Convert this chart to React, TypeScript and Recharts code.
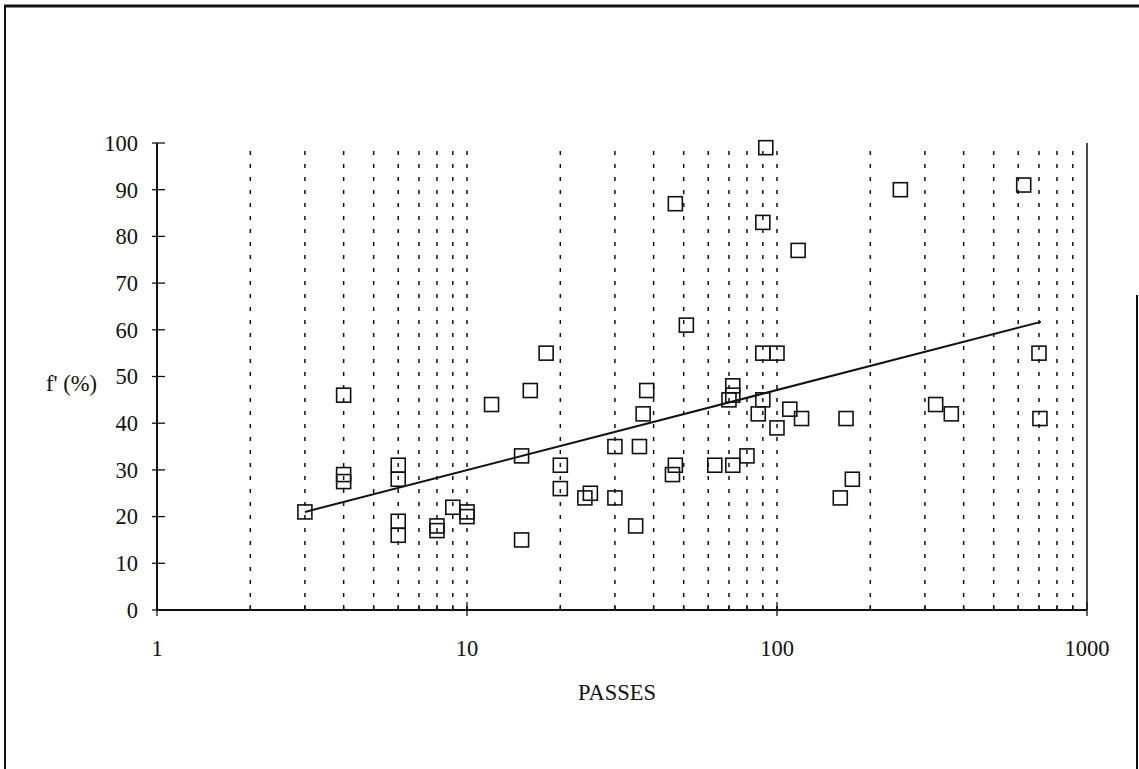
import { ScatterChart, Scatter, XAxis, YAxis, ReferenceLine } from "recharts";

// f' (%) versus number of passes
const passes = [
  3, 4, 4, 4, 6, 6, 6, 6, 8, 8, 9, 10, 10, 12, 15, 15, 16, 18, 20, 20, 24, 25, 30, 30, 35, 36, 37, 38,
  47, 46, 47, 51, 63, 70, 72, 72, 72, 80, 87, 90, 90, 90, 92, 117, 100, 110, 120, 100, 167, 175, 160,
  250, 325, 365, 625, 700, 705,
];
const fPercent = [
  21, 46, 29, 27.5, 31, 28, 19, 16, 18, 17, 22, 21, 20, 44, 33, 15, 47, 55, 31, 26, 24, 25, 35, 24, 18,
  35, 42, 47, 87, 29, 31, 61, 31, 45, 48, 46, 31, 33, 42, 45, 55, 83, 99, 77, 55, 43, 41, 39, 41, 28, 24,
  90, 44, 42, 91, 55, 41,
];

// regression line end points
const trendPasses = [3, 710];
const trendF = [21, 61.7];

const xTicks = [1, 2, 3, 4, 5, 6, 7, 8, 9, 10, 20, 30, 40, 50, 60, 70, 80, 90, 100, 200, 300, 400, 500, 600, 700, 800, 900, 1000];
const gridX = xTicks.filter((v) => v > 1 && v < 1000);
const majorX = [1, 10, 100, 1000];
const yTicks = [0, 10, 20, 30, 40, 50, 60, 70, 80, 90, 100];

const points = passes.map((x, i) => ({ x, y: fPercent[i] }));
const trend = trendPasses.map((x, i) => ({ x, y: trendF[i] }));

const INK = "#111";
const FONT = "'Liberation Serif', 'Times New Roman', serif";
const FS = 22.5;

function XTick({ x, y, payload }: any) {
  const major = majorX.includes(payload.value);
  return (
    <g>
      <line x1={x} x2={x} y1={major ? y - 8 : y - 5} y2={major ? y + 6 : y} stroke={INK} strokeWidth={1.3} />
      {major && (
        <text x={x} y={y + 38} dy="0.35em" textAnchor="middle" fontFamily={FONT} fontSize={FS} fill={INK}>
          {payload.value}
        </text>
      )}
    </g>
  );
}

function YTick({ x, y, payload }: any) {
  return (
    <g>
      <line x1={x - 5} x2={x + 8} y1={y} y2={y} stroke={INK} strokeWidth={1.3} />
      <text x={x - 19} y={y} dy="0.35em" textAnchor="end" fontFamily={FONT} fontSize={FS} fill={INK}>
        {payload.value}
      </text>
    </g>
  );
}

function Box({ cx, cy }: any) {
  return <rect x={cx - 7} y={cy - 7} width={14} height={14} fill="none" stroke={INK} strokeWidth={1.6} />;
}

export default function App() {
  return (
    <div style={{ position: "absolute", left: 0, top: 0, width: 1139, height: 769, background: "#fff" }}>
      <ScatterChart width={1139} height={769} margin={{ top: 143, right: 52, bottom: 129, left: 97 }}>
        {gridX.map((v) => (
          <ReferenceLine key={v} x={v} stroke={INK} strokeWidth={1.5} strokeDasharray="4 9" />
        ))}
        <ReferenceLine x={1000} stroke={INK} strokeWidth={1.5} />
        <XAxis
          type="number"
          dataKey="x"
          scale="log"
          domain={[1, 1000]}
          ticks={xTicks}
          interval={0}
          allowDataOverflow
          height={30}
          tickSize={0}
          tickMargin={0}
          tickLine={false}
          axisLine={{ stroke: INK, strokeWidth: 2 }}
          tick={<XTick />}
        />
        <YAxis
          type="number"
          dataKey="y"
          domain={[0, 100]}
          ticks={yTicks}
          interval={0}
          width={60}
          tickSize={0}
          tickMargin={0}
          tickLine={false}
          axisLine={{ stroke: INK, strokeWidth: 2 }}
          tick={<YTick />}
        />
        <Scatter data={trend} line={{ stroke: INK, strokeWidth: 2 }} lineType="joint" shape={() => <g />} isAnimationActive={false} />
        <Scatter data={points} shape={<Box />} isAnimationActive={false} />
      </ScatterChart>
      <svg width={1139} height={769} style={{ position: "absolute", left: 0, top: 0, pointerEvents: "none" }}>
        <line x1={4} x2={1139} y1={6} y2={6} stroke={INK} strokeWidth={3} />
        <line x1={5} x2={5} y1={5} y2={769} stroke={INK} strokeWidth={2} />
        <line x1={1137} x2={1137} y1={295} y2={769} stroke={INK} strokeWidth={2} />
        <text x={97} y={383} dy="0.35em" textAnchor="end" fontFamily={FONT} fontSize={FS} fill={INK}>
          f' (%)
        </text>
        <text x={617} y={692} dy="0.35em" textAnchor="middle" fontFamily={FONT} fontSize={FS} fill={INK}>
          PASSES
        </text>
      </svg>
    </div>
  );
}
